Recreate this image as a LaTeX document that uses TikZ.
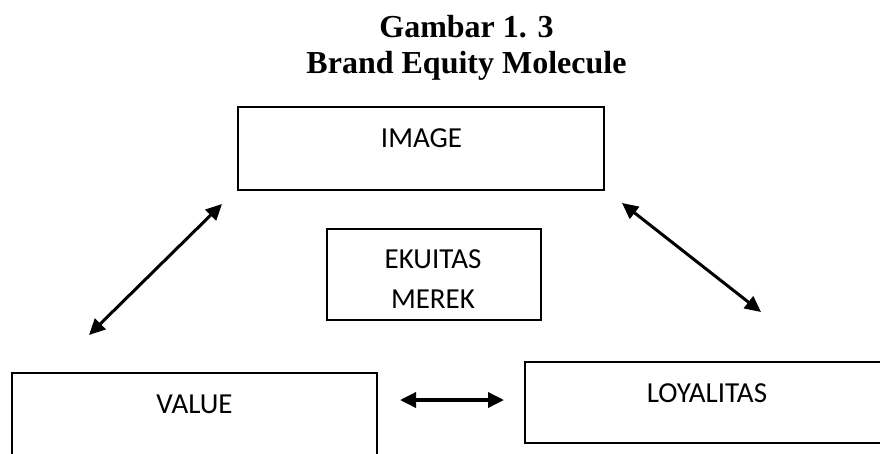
\documentclass[tikz,border=0pt]{standalone}
\usepackage{fontspec}
\setmainfont{Liberation Serif}
\newfontfamily\boxfont{Carlito}
\usetikzlibrary{arrows.meta,positioning}

\begin{document}
\begin{tikzpicture}[x=1pt,y=-1pt,
    box/.style={draw,line width=2.2pt,inner sep=0pt},
    boxtext/.style={anchor=base,inner sep=0pt,font=\boxfont\fontsize{29}{34}\selectfont},
    titletext/.style={anchor=base,inner sep=0pt,font=\bfseries\fontsize{32}{36}\selectfont},
    link/.style={{Triangle[length=16pt,width=15pt]}-{Triangle[length=16pt,width=15pt]},line width=3pt}]
    \clip (0,0) rectangle (880,453);
    \node[titletext] (title) at (466.5,37) {Gambar 1. 3};
    \node[titletext] (subtitle) at (466.5,73) {Brand Equity Molecule};
    % boxes
    \node[box,minimum width=366pt,minimum height=83pt] (image) at (421,148.5) {};
    \node[box,minimum width=214pt,minimum height=91pt] (ekuitas) at (434,274.5) {};
    \node[box,minimum width=365pt,minimum height=97pt] (value) at (194.5,421.5) {};
    \node[box,minimum width=370pt,minimum height=81pt] (loyal) at (710,402.5) {};
    \node[boxtext] (imagetxt) at (421.5,147) {IMAGE};
    \node[boxtext] (ekuitastxt) at (433,268) {EKUITAS};
    \node[boxtext] (merektxt) at (433,308) {MEREK};
    \node[boxtext] (valuetxt) at (194.5,413) {VALUE};
    \node[boxtext] (loyaltxt) at (707,402) {LOYALITAS};
    % arrows
    \coordinate (iv) at (222,204);
    \coordinate (vi) at (89,335);
    \coordinate (il) at (622,203);
    \coordinate (li) at (761,312);
    \coordinate (vl) at (400,400);
    \coordinate (lv) at (504,400);
    \draw[link] (iv) -- (vi);
    \draw[link] (il) -- (li);
    \draw[link,line width=3.5pt] (vl) -- (lv);
  \end{tikzpicture}
\end{document}
